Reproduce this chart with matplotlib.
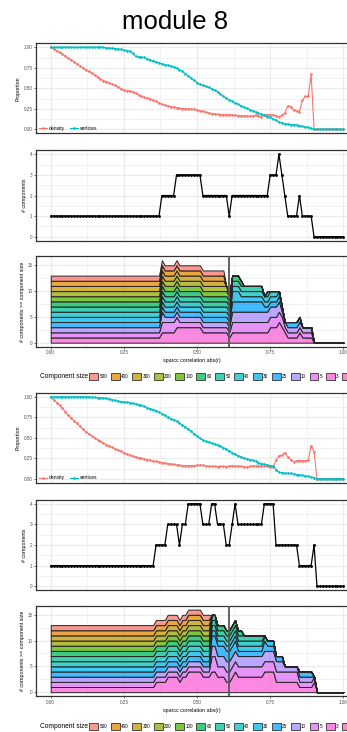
import numpy as np
import matplotlib
matplotlib.use("Agg")
import matplotlib.pyplot as plt
from matplotlib.lines import Line2D
from matplotlib.patches import Patch
from matplotlib.colors import to_rgba

plt.rcParams['font.family'] = ['Liberation Sans', 'DejaVu Sans']

W, H = 347, 732

# correlation cutoffs 0.00 .. 1.00
x = np.round(np.arange(0, 101) / 100, 2)

# ---- first run ----
density_a = [1.000, 0.980, 0.960, 0.940, 0.915, 0.895, 0.870, 0.850, 0.825, 0.800,
             0.775, 0.750, 0.728, 0.705, 0.685, 0.660, 0.635, 0.612, 0.595, 0.580,
             0.565, 0.550, 0.535, 0.515, 0.495, 0.480, 0.470, 0.465, 0.460, 0.440,
             0.420, 0.400, 0.390, 0.380, 0.370, 0.358, 0.340, 0.320, 0.305, 0.295,
             0.285, 0.275, 0.270, 0.262, 0.256, 0.252, 0.250, 0.248, 0.245, 0.245,
             0.236, 0.228, 0.218, 0.208, 0.200, 0.192, 0.185, 0.182, 0.180, 0.180,
             0.178, 0.176, 0.175, 0.172, 0.168, 0.165, 0.163, 0.162, 0.162, 0.163,
             0.175, 0.160, 0.155, 0.180, 0.178, 0.175, 0.175, 0.165, 0.150, 0.175,
             0.195, 0.285, 0.276, 0.236, 0.225, 0.215, 0.358, 0.400, 0.400, 0.670,
             0, 0, 0, 0, 0, 0, 0, 0, 0, 0, 0]
vertices_a = [1.000] * 18 + [
             0.998, 0.995,
             0.990, 0.988, 0.985, 0.980, 0.975, 0.967, 0.960, 0.950, 0.925, 0.890,
             0.885, 0.880, 0.876, 0.860, 0.846, 0.835, 0.822, 0.810, 0.800, 0.790,
             0.782, 0.772, 0.760, 0.745, 0.728, 0.705, 0.680, 0.655, 0.625, 0.597,
             0.568, 0.550, 0.535, 0.522, 0.510, 0.495, 0.475, 0.455, 0.430, 0.405,
             0.380, 0.360, 0.342, 0.325, 0.308, 0.290, 0.270, 0.255, 0.240, 0.226,
             0.212, 0.198, 0.185, 0.172, 0.155, 0.145, 0.130, 0.110, 0.090, 0.078,
             0.068, 0.062, 0.058, 0.055, 0.052, 0.045, 0.035, 0.028, 0.022, 0.010,
             0, 0, 0, 0, 0, 0, 0, 0, 0, 0, 0]
ncomp_a = ([1] * 38 + [2] * 5 + [3] * 9 + [2] * 9 + [1] + [2] * 13 + [3] * 3 + [4] + [3]
           + [2] + [1] * 4 + [2] + [1] * 4 + [0] * 11)
# (number of consecutive cutoffs, component sizes at those cutoffs)
sizes_a = [(38, [600]), (1, [600, 10]), (4, [600, 5]), (1, [600, 5, 3]), (8, [600, 3, 3]),
           (8, [600, 3]), (1, [250, 3]), (1, [150]), (3, [70, 30]), (1, [60, 25]),
           (7, [50, 25]), (1, [40, 10]), (1, [50, 10]), (3, [40, 10, 3]),
           (1, [30, 10, 3, 3]), (1, [25, 5, 3]), (1, [10, 3]), (4, [25]), (1, [25, 3]),
           (4, [10]), (11, [])]

# ---- second run ----
density_b = [1.000, 0.960, 0.930, 0.895, 0.860, 0.820, 0.780, 0.745, 0.710, 0.675,
             0.640, 0.605, 0.575, 0.550, 0.525, 0.500, 0.478, 0.458, 0.438, 0.418,
             0.400, 0.384, 0.368, 0.352, 0.336, 0.318, 0.302, 0.290, 0.278, 0.266,
             0.256, 0.248, 0.240, 0.232, 0.225, 0.218, 0.212, 0.205, 0.198, 0.192,
             0.186, 0.180, 0.175, 0.170, 0.165, 0.162, 0.160, 0.160, 0.160, 0.162,
             0.165, 0.168, 0.165, 0.158, 0.152, 0.150, 0.150, 0.148, 0.150, 0.150,
             0.148, 0.155, 0.158, 0.155, 0.150, 0.152, 0.148, 0.140, 0.150, 0.158,
             0.155, 0.150, 0.150, 0.152, 0.150, 0.145, 0.138, 0.230, 0.280, 0.288,
             0.320, 0.270, 0.235, 0.210, 0.220, 0.222, 0.222, 0.222, 0.225, 0.405,
             0.330, 0, 0, 0, 0, 0, 0, 0, 0, 0, 0]
vertices_b = [1.000] * 14 + [
             0.995, 0.992, 0.990, 0.988, 0.985, 0.980,
             0.972, 0.965, 0.955, 0.948, 0.942, 0.938, 0.935, 0.928, 0.920, 0.912,
             0.905, 0.895, 0.882, 0.868, 0.855, 0.845, 0.832, 0.815, 0.795, 0.775,
             0.748, 0.730, 0.722, 0.705, 0.680, 0.655, 0.630, 0.605, 0.578, 0.550,
             0.520, 0.494, 0.470, 0.455, 0.445, 0.435, 0.425, 0.412, 0.398, 0.380,
             0.362, 0.340, 0.320, 0.300, 0.282, 0.268, 0.255, 0.243, 0.235, 0.225,
             0.212, 0.198, 0.185, 0.178, 0.170, 0.162, 0.155, 0.110, 0.080, 0.075,
             0.070, 0.068, 0.065, 0.058, 0.052, 0.048, 0.042, 0.036, 0.030, 0.022,
             0.015, 0, 0, 0, 0, 0, 0, 0, 0, 0, 0]
ncomp_b = ([1] * 36 + [2] * 4 + [3] * 4 + [2] + [3] * 2 + [4] * 5 + [3] * 3 + [4] * 2
           + [3] * 3 + [2] * 2 + [3] + [4] + [3] * 9 + [4] * 4 + [2] * 8 + [1] * 5
           + [2] + [0] * 10)
sizes_b = [(36, [600]), (4, [600, 3]), (4, [600, 3, 3]), (1, [600, 3]), (2, [600, 3, 3]),
           (5, [600, 3, 3, 3]), (3, [600, 3, 3]), (2, [70, 25, 5, 3]), (3, [70, 25, 3]),
           (2, [70, 25]), (1, [70, 25, 3]), (1, [70, 25, 3, 3]), (2, [60, 10, 3]),
           (7, [50, 10, 3]), (1, [30, 25, 3, 3]), (3, [30, 10, 3, 3]), (3, [25, 10]),
           (5, [10, 5]), (5, [25]), (1, [5, 3]), (10, [])]

# component-size levels in legend order; the last one holds no components here
size_levels = [500, 400, 300, 200, 100, 60, 50, 40, 30, 25, 10, 5, 3]
legend_levels = size_levels + [2]
cutoff_line = 0.61


def hue_pal(n, c=100, l=65):
    # ggplot2 default hue palette (polar LUV -> sRGB)
    out = []
    for h in np.linspace(15, 375, n + 1)[:n]:
        hr = np.deg2rad(h)
        U, V = c * np.cos(hr), c * np.sin(hr)
        Y = ((l + 16) / 116) ** 3
        Xn, Yn, Zn = 0.95047, 1.0, 1.08883
        d = Xn + 15 * Yn + 3 * Zn
        un, vn = 4 * Xn / d, 9 * Yn / d
        up, vp = U / (13 * l) + un, V / (13 * l) + vn
        X = Y * 9 * up / (4 * vp)
        Z = Y * (12 - 3 * up - 20 * vp) / (4 * vp)
        rgb = np.array([3.2404542 * X - 1.5371385 * Y - 0.4985314 * Z,
                        -0.9692660 * X + 1.8760108 * Y + 0.0415560 * Z,
                        0.0556434 * X - 0.2040259 * Y + 1.0572252 * Z])
        rgb = np.where(rgb <= 0.0031308, 12.92 * rgb, 1.055 * np.abs(rgb) ** (1 / 2.4) - 0.055)
        out.append(tuple(np.clip(rgb, 0, 1)))
    return out


level_colors = hue_pal(len(legend_levels))
DENS_C, VERT_C = hue_pal(2)
GRID = '#EBEBEB'
TXT = '#4D4D4D'
FILL_ALPHA = 0.75


def layer_counts(runs):
    rows = []
    for n, sizes in runs:
        rows += [[sum(s >= t for s in sizes) for t in size_levels]] * n
    return np.array(rows).T


def place(top_px, bot_px):
    left, right = 36.1, 348.0
    return [left / W, 1 - bot_px / H, (right - left) / W, (bot_px - top_px) / H]


def style(ax, ylim, yticks, yminor, ylabel, xlabels=False):
    ax.set_xlim(-0.05, 1.016)
    ax.set_ylim(*ylim)
    ax.set_xticks([0, 0.25, 0.5, 0.75, 1.0])
    ax.set_xticks([0.125, 0.375, 0.625, 0.875], minor=True)
    ax.set_yticks(yticks)
    ax.set_yticks(yminor, minor=True)
    ax.grid(True, which='major', color=GRID, lw=0.9)
    ax.grid(True, which='minor', color=GRID, lw=0.45)
    ax.set_axisbelow(True)
    for sp in ax.spines.values():
        sp.set_color('#333333')
        sp.set_linewidth(0.9)
    ax.tick_params(which='minor', length=0)
    ax.tick_params(axis='y', length=1.5, width=0.5, color='#333333', pad=1,
                   labelsize=3.3, labelcolor=TXT)
    if xlabels:
        ax.tick_params(axis='x', length=1.5, width=0.5, color='#333333', pad=1,
                       labelsize=3.3, labelcolor=TXT)
        ax.set_xticklabels(['0.00', '0.25', '0.50', '0.75', '1.00'])
        ax.set_xlabel('sparcc correlation abs(r)', fontsize=3.8, labelpad=2)
    else:
        ax.tick_params(axis='x', length=0, labelbottom=False)
    ax.set_ylabel(ylabel, fontsize=3.8, labelpad=2)


fig = plt.figure(figsize=(W / 100, H / 100), dpi=100)
fig.text(175.5 / W, 1 - 22 / H, 'module 8', ha='center', va='center', fontsize=18.5)

runs = [(density_a, vertices_a, ncomp_a, sizes_a, 0.0),
        (density_b, vertices_b, ncomp_b, sizes_b, 349.5)]

for dens, vert, ncomp, sizes, dy in runs:
    # proportion panel
    ax1 = fig.add_axes(place(43.2 + dy, 133.4 + dy))
    ax1.plot(x, dens, color=DENS_C, lw=0.8, marker='o', ms=1.9, mew=0, zorder=3)
    ax1.plot(x, vert, color=VERT_C, lw=0.8, marker='o', ms=1.9, mew=0, zorder=3)
    style(ax1, (-0.05, 1.05), [0, 0.25, 0.5, 0.75, 1.0], [0.125, 0.375, 0.625, 0.875],
          'Proportion')
    ax1.set_yticklabels(['0.00', '0.25', '0.50', '0.75', '1.00'])
    h = [Line2D([], [], color=DENS_C, lw=0.8, marker='o', ms=1.9, mew=0),
         Line2D([], [], color=VERT_C, lw=0.8, marker='o', ms=1.9, mew=0)]
    ax1.legend(h, ['density', 'vertices'], loc='lower left', ncol=2, frameon=False,
               fontsize=3.6, handlelength=1.7, handletextpad=0.4, columnspacing=0.9,
               borderaxespad=0.2, borderpad=0.3)

    # number of components panel
    ax2 = fig.add_axes(place(150.2 + dy, 240.8 + dy))
    ax2.plot(x, ncomp, color='black', lw=0.9, marker='o', ms=2.1, mew=0, zorder=3)
    style(ax2, (-0.2, 4.2), [0, 1, 2, 3, 4], [0.5, 1.5, 2.5, 3.5], '# components')

    # stacked component-size panel
    ax3 = fig.add_axes(place(256.0 + dy, 346.8 + dy))
    counts = layer_counts(sizes)
    base = np.zeros(len(x))
    for i in range(len(size_levels) - 1, -1, -1):
        top = base + counts[i]
        ax3.fill_between(x, base, top, facecolor=to_rgba(level_colors[i], FILL_ALPHA),
                         edgecolor='#262626', lw=0.7, zorder=2)
        base = top
    ax3.axvline(cutoff_line, color='#555555', lw=1.3, zorder=4)
    style(ax3, (-0.8, 16.8), [0, 5, 10, 15], [2.5, 7.5, 12.5],
          '# components >= component size', xlabels=True)

    # legend row
    fig.text(40 / W, 1 - (376.7 + dy) / H, 'Component size', ha='left', va='center',
             fontsize=4.8)
    handles = [Patch(facecolor=to_rgba(c, FILL_ALPHA), edgecolor='#333333', lw=0.6)
               for c in level_colors]
    fig.legend(handles, [str(s) for s in legend_levels], loc='center left',
               bbox_to_anchor=(89.5 / W, 1 - (376.7 + dy) / H), ncol=len(legend_levels),
               frameon=False, fontsize=3.3, handlelength=1.95, handleheight=2.1,
               handletextpad=0.3, columnspacing=0.75, borderpad=0, borderaxespad=0)

fig.savefig('out.png', dpi=100)
